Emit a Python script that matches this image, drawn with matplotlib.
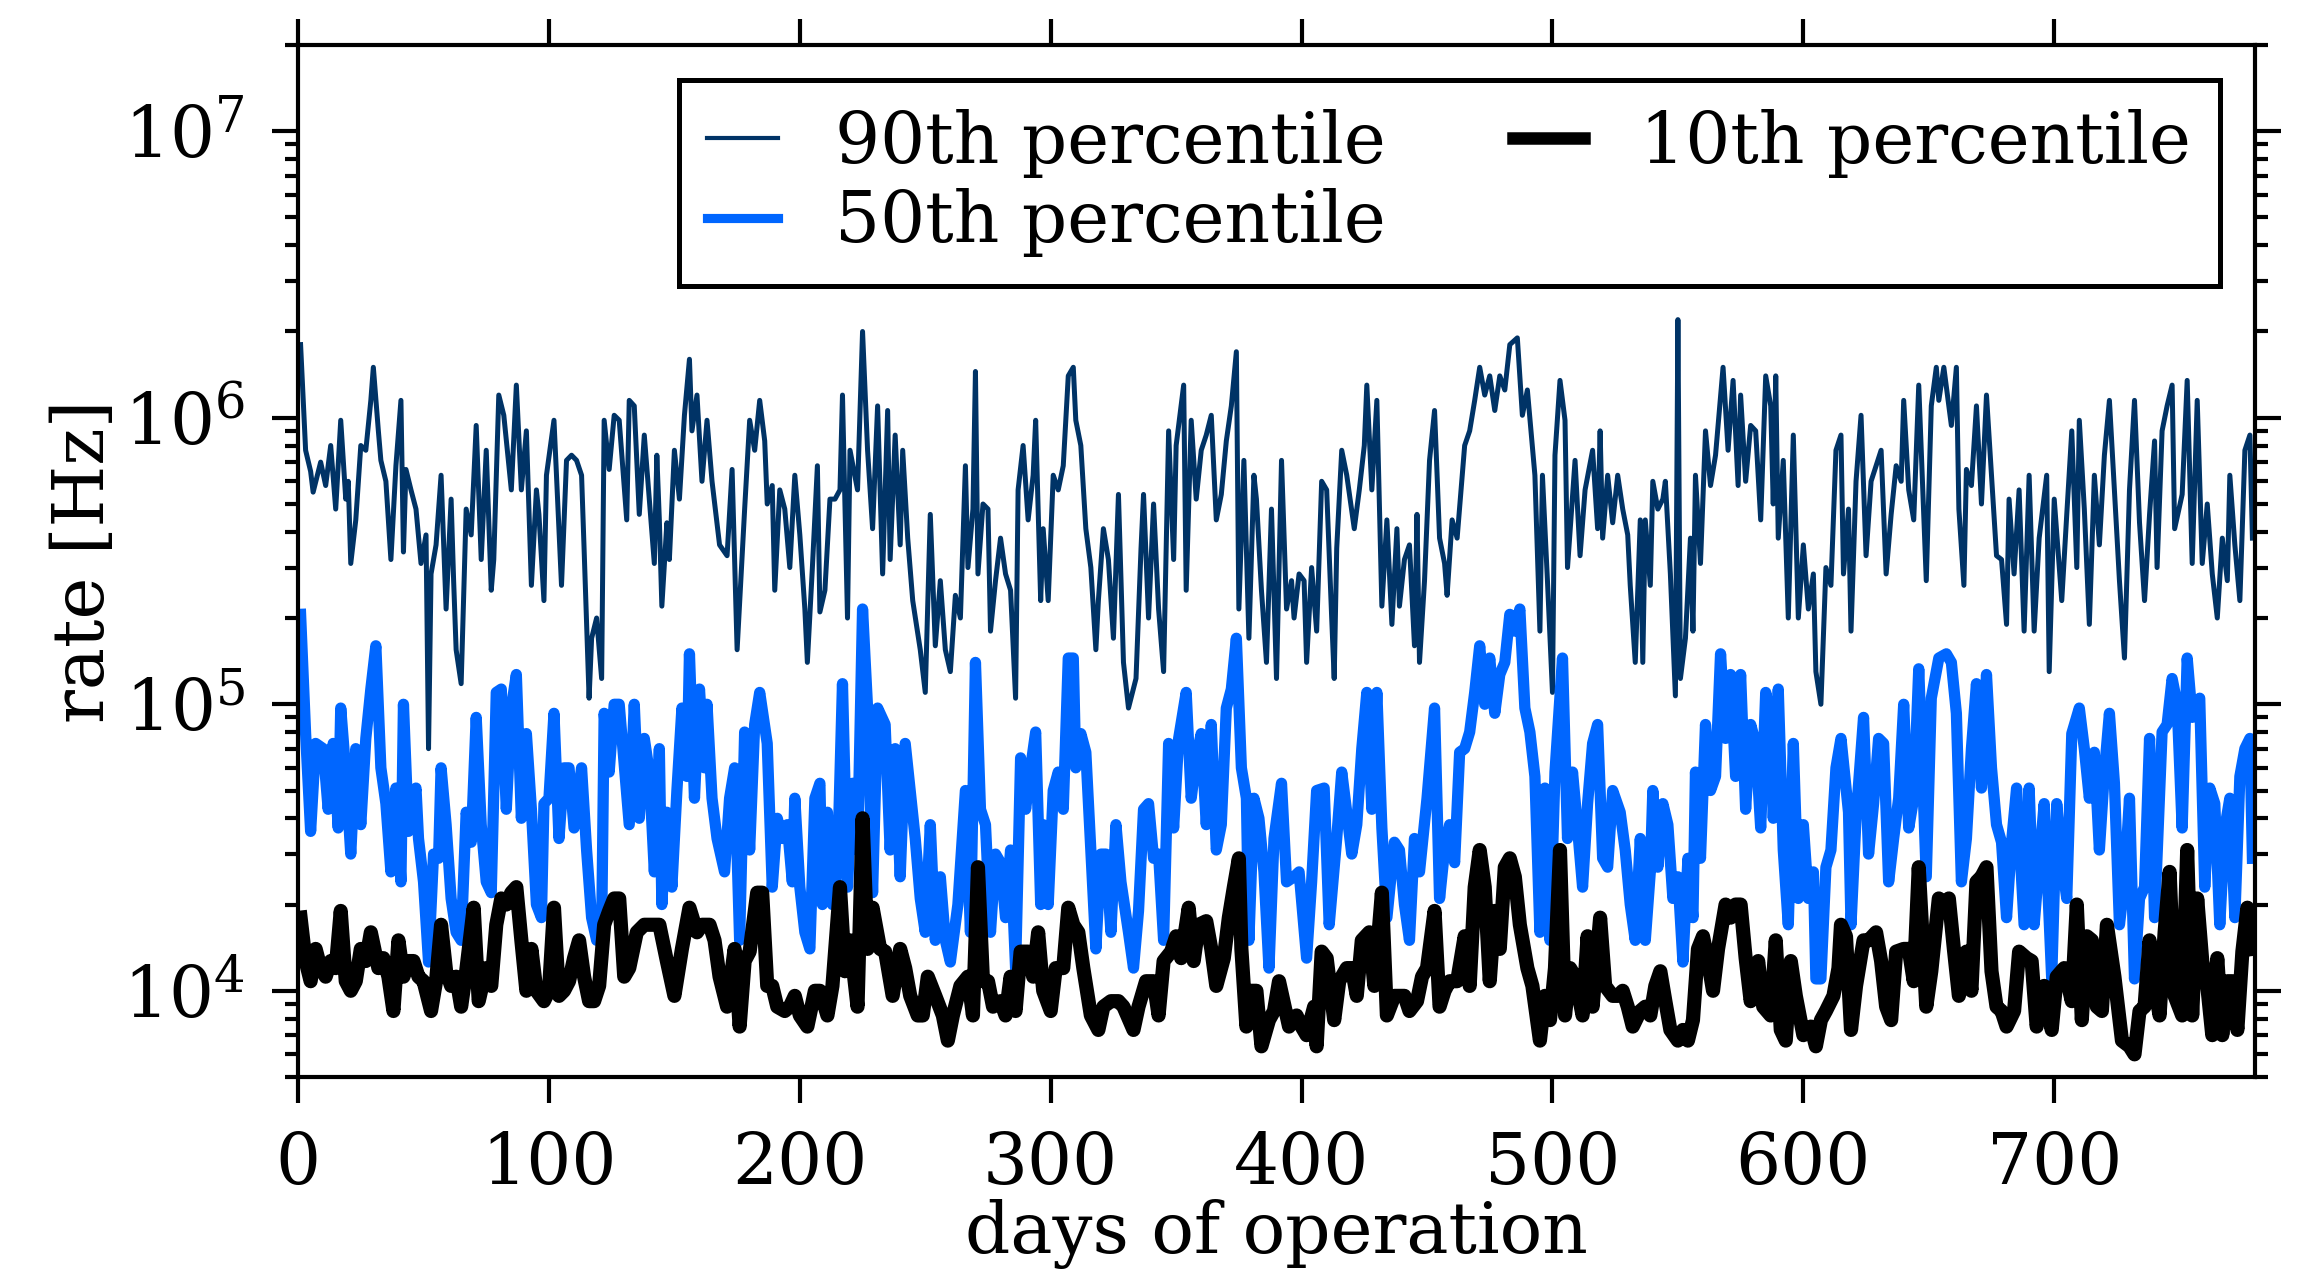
import numpy as np
import matplotlib
matplotlib.use('Agg')
import matplotlib.pyplot as plt
from matplotlib.ticker import LogLocator, NullFormatter

plt.rcParams['font.family'] = 'DejaVu Serif'
plt.rcParams['mathtext.fontset'] = 'dejavuserif'

# rates, in kHz, per day of operation
p90_days = [1, 3, 5, 6, 9, 11, 13, 15, 17, 19, 20, 21, 23, 25, 27, 29, 30, 32, 33, 35,
            37, 39, 41, 42, 43, 45, 47, 49, 51, 52, 53, 55, 57, 59, 61, 62, 63, 65, 67, 69,
            71, 73, 75, 77, 78, 80, 82, 85, 87, 89, 91, 93, 95, 96, 98, 99, 102, 105, 107, 109,
            111, 113, 114, 116, 117, 119, 121, 122, 124, 126, 128,
            131, 132, 134, 136, 138, 140, 142, 143, 144, 145, 147, 148, 150, 152, 154, 156, 157, 159, 161, 163,
            165, 168, 171, 173, 175, 178, 180, 182, 184, 186, 187, 189, 190, 192, 194, 196, 198, 200, 202, 203,
            205, 207, 208, 210, 212, 214, 216, 217, 219, 220, 223, 225, 227, 229, 231, 233, 235, 236, 238, 240,
            241, 243, 245, 248, 250, 252, 254, 256, 258, 260,
            262, 264, 266, 267, 269, 270, 271, 273, 275, 276, 278, 280, 282, 284, 286, 287, 289, 291, 293, 294,
            296, 297, 299, 301, 303, 305, 307, 309, 310, 312, 314, 316, 318, 319, 321, 323, 325, 327, 329, 331,
            334, 336, 337, 339, 341, 343, 345, 347, 349, 350, 353, 354, 356, 358, 360, 362, 364, 366, 368, 370,
            372, 374, 375, 377, 379, 381, 382, 384, 386, 388, 390,
            392, 394, 396, 397, 399, 401, 402, 404, 406, 408, 410, 412, 413, 414, 416, 418, 421, 423, 425, 426,
            428, 430, 432, 434, 436, 438, 439, 441, 443, 445, 446, 447, 449, 451, 453, 455, 457, 458, 460, 462,
            465, 467, 469, 471, 473, 475, 477, 479, 481, 483, 486, 488, 490, 493, 495, 496, 498, 500, 501, 503,
            505, 506, 509, 511, 513, 516, 518, 519, 520, 522,
            524, 526, 528, 530, 531, 533, 535, 536, 537, 539, 540, 542, 544, 545, 547, 549, 550, 551, 553, 555,
            556, 557, 559, 561, 563, 565, 568, 570, 572, 574, 575, 577, 579, 581, 583, 585, 587, 588, 589, 590,
            592, 594, 596, 598, 600, 602, 604, 605, 607, 609, 611, 613, 615, 616, 618, 619, 621, 623, 625, 627,
            629, 631, 633, 635, 637, 639, 640, 642, 644, 646, 649, 651, 653,
            654, 656, 659, 661, 662, 664, 665, 667, 669, 671, 673, 675, 677, 679, 681, 682, 684, 686, 688, 690,
            692, 694, 697, 698, 700, 703, 705, 707, 709, 710, 712, 714, 716, 718, 720, 722, 724, 726, 728, 730,
            732, 734, 736, 738, 740, 741, 743, 745, 747, 748, 751, 753, 755, 757, 759, 761, 763, 765, 767, 769,
            770, 772, 774, 776, 778, 779]
p90_khz = [1800, 770, 650, 550, 700, 580, 800, 480, 980, 520, 600, 310, 440, 800, 770, 1150, 1500, 900, 710, 600,
           320, 680, 1150, 340, 660, 560, 480, 310, 390, 70, 285, 360, 630, 215, 520, 270, 155, 118, 480, 390,
           940, 320, 770, 250, 320, 1200, 1020, 560, 1300, 560, 900, 260, 560, 460, 230, 630, 980, 260, 710, 740,
           710, 630, 350, 105, 170, 200, 123, 980, 660, 1020, 980,
           440, 1150, 1100, 460, 870, 520, 310, 740, 440, 220, 430, 320, 770, 520, 1020, 1600, 900, 1200, 600, 980,
           600, 360, 330, 660, 155, 480, 980, 770, 1150, 830, 500, 580, 250, 560, 480, 300, 630, 390, 215, 140,
           300, 680, 210, 250, 520, 520, 560, 1200, 200, 770, 560, 2000, 770, 410, 1100, 285, 1060, 320, 870, 360,
           770, 380, 230, 155, 110, 460, 160, 270, 155, 130,
           240, 200, 680, 300, 480, 1450, 285, 500, 480, 180, 270, 380, 285, 250, 105, 560, 800, 440, 630, 980,
           230, 410, 230, 630, 560, 680, 1400, 1500, 980, 800, 410, 300, 155, 230, 410, 320, 170, 540, 140, 97,
           123, 350, 540, 200, 500, 215, 130, 900, 320, 800, 1300, 250, 980, 520, 770, 870, 1020, 440, 540, 830,
           1100, 1700, 215, 710, 170, 630, 520, 250, 140, 480, 123,
           710, 215, 270, 200, 285, 270, 140, 300, 180, 600, 560, 200, 123, 350, 770, 630, 410, 560, 800, 1300,
           560, 1150, 220, 440, 190, 410, 220, 320, 360, 160, 460, 140, 270, 710, 1060, 380, 310, 240, 440, 380,
           800, 900, 1150, 1500, 1200, 1400, 1060, 1400, 1250, 1800, 1900, 1020, 1250, 630, 180, 630, 270, 110, 740, 1350,
           980, 300, 710, 330, 560, 770, 410, 900, 380, 630,
           430, 630, 480, 390, 260, 140, 440, 140, 440, 260, 600, 480, 520, 600, 285, 107, 2200, 123, 170, 380,
           180, 630, 310, 900, 580, 740, 1500, 770, 1350, 580, 1200, 600, 940, 900, 440, 1400, 1100, 500, 1400, 380,
           710, 200, 870, 200, 360, 215, 285, 130, 100, 300, 260, 770, 870, 285, 480, 180, 600, 1020, 330, 600,
           680, 770, 285, 460, 680, 600, 1150, 560, 440, 1300, 270, 1100, 1500,
           1150, 1500, 940, 1500, 480, 260, 660, 580, 1100, 500, 1200, 630, 330, 320, 190, 520, 285, 560, 180, 630,
           180, 380, 630, 130, 520, 230, 460, 900, 300, 980, 480, 190, 630, 360, 740, 1150, 560, 270, 145, 560,
           1150, 430, 230, 460, 830, 300, 900, 1100, 1300, 410, 540, 1350, 310, 1150, 310, 500, 285, 200, 380, 270,
           630, 360, 230, 770, 870, 380]

p50_days = [1, 3, 5, 7, 10, 12, 14, 16, 17, 19, 21, 23, 25, 27, 29, 31, 33, 35, 37, 39,
            41, 42, 44, 47, 48, 50, 52, 54, 56, 57, 59, 61, 63, 65, 67, 69, 71, 73, 75, 77,
            79, 81, 83, 85, 87, 89, 91, 93, 95, 97, 98, 100, 102, 104, 106, 108, 110, 113, 115, 117,
            119, 121, 122, 124, 126, 128,
            132, 134, 136, 138, 140, 142, 144, 145, 147, 149, 151, 153, 155, 156, 158, 160, 162, 163, 165, 167,
            170, 172, 174, 176, 178, 180, 182, 184, 187, 189, 191, 193, 195, 197, 198, 200, 202, 204, 206, 208,
            209, 211, 213, 215, 217, 219, 221, 223, 225, 227, 229, 231, 234, 236, 238, 240, 242, 244, 246, 248,
            250, 252, 254, 256, 258, 260,
            263, 266, 268, 270, 272, 274, 276, 278, 280, 282, 284, 286, 288, 290, 292, 294, 296, 297, 299, 301,
            303, 305, 307, 309, 310, 312, 314, 316, 318, 320, 322, 324, 326, 328, 331, 333, 335, 337, 339, 341,
            343, 345, 347, 349, 351, 354, 356, 358, 360, 362, 364, 366, 368, 370, 372, 374, 376, 378, 379, 381,
            383, 385, 387, 389,
            392, 394, 397, 399, 402, 404, 406, 409, 411, 414, 416, 418, 420, 422, 424, 426, 428, 430, 432, 434,
            437, 439, 441, 443, 445, 447, 450, 453, 455, 457, 459, 461, 463, 465, 467, 469, 471, 473, 475, 477,
            479, 481, 483, 485, 487, 489, 491, 493, 495, 497, 499, 501, 504, 506, 508, 510, 512, 514, 516, 518,
            520, 522, 524,
            527, 529, 531, 533, 535, 537, 539, 540, 542, 544, 546, 548, 550, 552, 554, 556, 557, 559, 561, 563,
            565, 567, 569, 571, 573, 575, 577, 579, 581, 583, 585, 587, 588, 590, 592, 594, 596, 598, 600, 602,
            604, 605, 607, 609, 611, 613, 615, 618, 619, 621, 624, 626, 628, 630, 632, 634, 636, 638, 640, 642,
            644, 646, 649, 651,
            654, 657, 659, 661, 663, 665, 667, 669, 671, 673, 675, 677, 679, 681, 683, 685, 688, 690, 692, 694,
            696, 699, 701, 703, 705, 707, 710, 712, 714, 716, 718, 720, 722, 724, 726, 728, 730, 732, 734, 736,
            738, 740, 743, 745, 747, 749, 751, 753, 755, 758, 760, 762, 764, 766, 768, 770, 772, 774, 776, 778,
            779]
p50_khz = [206, 79, 36, 73, 70, 43, 73, 37, 97, 58, 30, 70, 38, 76, 113, 160, 60, 45, 26, 51,
           24, 100, 36, 51, 34, 24, 12.6, 30, 29, 60, 38, 21, 16, 15, 42, 33, 90, 38, 24, 22,
           110, 113, 43, 97, 127, 40, 79, 43, 20, 18, 45, 47, 93, 34, 60, 60, 37, 60, 31, 18,
           15, 16, 93, 58, 100, 100,
           38, 100, 40, 76, 58, 26, 70, 20, 42, 23, 50, 97, 56, 150, 47, 113, 60, 100, 47, 34,
           26, 47, 60, 15, 80, 31, 85, 110, 73, 23, 40, 34, 38, 24, 47, 23, 16, 14, 47, 53,
           20, 42, 20, 27, 118, 23, 53, 31, 215, 97, 22, 97, 85, 31, 70, 25, 73, 50, 34, 21,
           16, 38, 15, 25, 15, 12.6,
           20, 50, 16, 140, 43, 38, 16, 30, 28, 18, 31, 12, 65, 43, 60, 80, 20, 38, 20, 50,
           58, 43, 145, 145, 60, 79, 68, 31, 14, 30, 30, 16, 38, 24, 16, 12, 19, 43, 45, 29,
           30, 15, 73, 37, 76, 110, 47, 65, 79, 38, 85, 31, 38, 97, 113, 170, 60, 47, 15, 47,
           40, 26, 12, 34,
           53, 24, 25, 26, 13, 24, 50, 51, 17, 34, 58, 42, 30, 38, 70, 110, 43, 110, 37, 18,
           33, 31, 20, 15, 34, 26, 47, 97, 21, 31, 38, 28, 68, 70, 80, 110, 160, 100, 145, 93,
           127, 140, 206, 180, 215, 97, 80, 56, 16, 51, 15, 58, 145, 34, 58, 37, 23, 45, 73, 85,
           29, 27, 50,
           42, 31, 20, 15, 34, 15, 26, 50, 27, 45, 38, 21, 25, 12.6, 29, 18, 58, 29, 85, 50,
           56, 150, 76, 127, 56, 127, 43, 85, 73, 37, 110, 90, 40, 113, 31, 17, 73, 21, 38, 21,
           26, 11, 11, 27, 31, 60, 76, 42, 17, 40, 90, 30, 45, 76, 73, 24, 34, 47, 100, 37,
           47, 133, 25, 105,
           145, 150, 140, 93, 24, 34, 70, 118, 51, 127, 60, 38, 33, 18, 33, 51, 17, 51, 17, 28,
           45, 11, 45, 28, 21, 79, 97, 70, 47, 68, 31, 58, 93, 53, 17, 24, 47, 11, 21, 23,
           76, 18, 80, 85, 123, 100, 37, 145, 90, 105, 23, 51, 45, 17, 37, 47, 18, 56, 70, 76,
           29]

p10_days = [1, 3, 5, 7, 9, 11, 13, 15, 17, 19, 21, 23, 25, 27, 29, 32, 34, 36, 38, 40,
            42, 44, 46, 48, 50, 53, 55, 57, 59, 61, 63, 65, 67, 70, 72, 75, 77, 79, 81, 83,
            85, 87, 89, 91, 93, 95, 98, 100, 102, 104, 106, 108, 110, 112, 114, 116, 118, 120, 122, 124,
            126, 128, 130,
            132, 135, 138, 141, 144, 147, 150, 153, 156, 159, 161, 164, 166, 168, 171, 174, 176, 178, 180, 183,
            185, 187, 189, 191, 194, 196, 198, 200, 203, 206, 208, 211, 213, 216, 218, 220, 223, 225, 227, 229,
            232, 234, 237, 240, 242, 244, 247, 249, 251, 254, 257, 259,
            261, 264, 267, 269, 271, 273, 275, 277, 280, 282, 284, 286, 288, 291, 293, 295, 297, 300, 302, 305,
            307, 309, 311, 313, 316, 319, 321, 324, 327, 329, 333, 335, 338, 341, 343, 345, 348, 350, 352, 355,
            357, 359, 362, 364, 366, 369, 371, 373, 375, 376, 378, 380, 382, 384, 387, 389, 391,
            395, 398, 400, 402, 405, 406, 408, 410, 413, 415, 418, 420, 422, 424, 427, 429, 432, 434, 437, 439,
            441, 443, 446, 448, 450, 453, 455, 457, 459, 462, 465, 467, 469, 471, 473, 475, 477, 479, 481, 483,
            485, 487, 490, 492, 495, 497, 499, 501, 503, 505, 507, 509, 512, 514, 516, 519, 521, 524, 526,
            528, 530, 532, 535, 537, 539, 541, 543, 545, 547, 550, 552, 554, 556, 558, 560, 562, 564, 566, 569,
            571, 573, 575, 577, 579, 582, 584, 587, 589, 591, 593, 595, 597, 600, 603, 605, 607, 609, 612, 614,
            615, 617, 619, 621, 624, 626, 629, 631, 633, 635, 637, 640, 642, 644, 646, 649, 651,
            654, 656, 658, 660, 662, 665, 667, 669, 671, 673, 675, 677, 679, 681, 684, 686, 689, 691, 693, 696,
            699, 701, 704, 707, 709, 711, 713, 715, 717, 719, 721, 724, 727, 730, 732, 734, 736, 738, 740, 742,
            744, 746, 748, 751, 753, 755, 757, 759, 761, 763, 765, 767, 769, 771, 773, 775, 777, 779]
p10_khz = [18, 12.7, 10.8, 14, 12, 11.2, 12.7, 12, 19, 10.8, 10, 10.8, 14, 12.7, 16, 12, 13, 11.2, 8.5, 15,
           11.2, 12.7, 12.7, 11.2, 10.8, 8.5, 10.8, 17, 11.7, 10.4, 11.2, 8.8, 11.7, 19.5, 9.2, 12, 10.4, 17, 21, 20,
           22, 23, 15, 10, 14, 10, 9.2, 10, 19.5, 9.6, 10, 10.8, 13, 15, 11.2, 9.2, 9.2, 10.4, 17, 19,
           21, 21, 11.2,
           12, 16, 17, 17, 17, 12.7, 9.6, 14, 19.5, 16, 17, 17, 15, 11.2, 8.8, 14, 7.5, 12.7, 13.7, 22,
           22, 10.4, 10.4, 8.8, 8.5, 8.8, 9.6, 8.2, 7.5, 10, 10, 8.2, 10.4, 23, 11.7, 15, 8.8, 40, 14, 19.5,
           14, 13.7, 9.6, 14, 12, 9.6, 8.2, 8.2, 11.2, 9.6, 8.2, 6.7,
           8.2, 10.4, 11.2, 8.2, 27, 10.8, 10.8, 8.8, 9.2, 8.2, 11.2, 8.5, 13.7, 13.7, 11.2, 16, 10, 8.5, 12, 12,
           19.5, 17, 16, 12, 8.2, 7.3, 8.8, 9.2, 9.2, 8.8, 7.3, 8.8, 10.8, 10.8, 8.2, 12.7, 13.7, 15.5, 13, 19.5,
           12.7, 17, 17.5, 14, 10.4, 13, 18, 23, 29, 14, 7.5, 10, 10, 6.4, 7.9, 8.5, 10.8,
           7.5, 8.2, 7.5, 7, 8.8, 6.4, 13.7, 13, 7.9, 10.8, 12, 12, 9.6, 15, 16, 10.4, 22, 8.2, 9.6, 9.6,
           9.6, 8.5, 9.2, 11.2, 12, 19, 8.8, 10, 10.8, 10.8, 15.5, 10.4, 23, 31, 23, 10.8, 19, 14, 27, 29,
           25, 17, 12, 10.4, 6.7, 9.6, 7.9, 12, 31, 8.2, 12, 11.2, 8.2, 15.5, 8.8, 18, 10.4, 9.6, 9.6,
           10, 8.8, 7.5, 8.5, 8.8, 8.2, 10.4, 11.7, 9.2, 7.3, 6.7, 7.3, 6.7, 7.9, 14, 15.5, 12.7, 10, 14, 20,
           18, 20, 20, 13, 9.2, 12.7, 8.8, 8.2, 15, 7.3, 6.7, 12.7, 9.6, 7, 7.5, 6.4, 7.9, 8.5, 9.6, 12,
           17, 15.5, 7.3, 10.4, 15, 15, 16, 12.7, 8.8, 7.9, 13.7, 14, 14, 10.8, 27, 8.8, 11.7,
           21, 19, 21, 14, 9.6, 13.7, 10, 24, 25, 27, 11.7, 8.8, 8.5, 7.5, 8.5, 13.7, 13, 12.7, 7.5, 10.4,
           7.3, 11.2, 12, 9.2, 20, 7.9, 15.5, 15, 8.8, 8.5, 17, 11.2, 6.7, 6.4, 6, 8.5, 8.8, 15, 10.4, 8.2,
           16, 26, 9.6, 8.2, 31, 8.2, 21, 12.7, 10.4, 7, 13, 7, 10.8, 10.8, 7.3, 13.7, 19.5, 14]

labels = ['90th percentile', '50th percentile', '10th percentile']
colors = ['#003366', '#0066ff', 'black']
widths = [1.2, 2.7, 3.4]

series = [(p90_days, p90_khz), (p50_days, p50_khz), (p10_days, p10_khz)]

fig, ax = plt.subplots(figsize=(2300 / 300, 1274 / 300), dpi=300)
fig.subplots_adjust(left=0.1296, right=0.9804, bottom=0.1546, top=0.9647)

for (d, v), lab, c, lw in zip(series, labels, colors, widths):
    ax.plot(d, np.asarray(v) * 1e3, color=c, lw=lw, label=lab)

ax.set_yscale('log')
ax.set_xlim(0, 780)
ax.set_ylim(5e3, 2e7)
ax.set_xticks(np.arange(0, 701, 100))
ax.yaxis.set_minor_locator(LogLocator(base=10, subs=np.arange(2, 10)))
ax.yaxis.set_minor_formatter(NullFormatter())

ax.tick_params(which='both', direction='out', top=True, right=True,
               labelsize=17, width=1.0, pad=6.5)
ax.tick_params(which='major', length=6.2)
ax.tick_params(which='minor', length=3.2)
for s in ax.spines.values():
    s.set_linewidth(1.0)

ax.set_xlabel('days of operation', fontsize=17, labelpad=0)
ax.set_ylabel('rate [Hz]', fontsize=17, labelpad=1)

leg = ax.legend(ncol=2, loc='upper right', fontsize=17, frameon=True, fancybox=False,
                edgecolor='black', framealpha=1, handlelength=1.0, handletextpad=0.8,
                columnspacing=1.8, borderpad=0.4, labelspacing=0.15, borderaxespad=0.5)
leg.get_frame().set_linewidth(1.2)
for h, lw in zip(leg.get_lines(), [1.0, 2.2, 3.0]):
    h.set_linewidth(lw)

fig.savefig('out.png', dpi=300)
